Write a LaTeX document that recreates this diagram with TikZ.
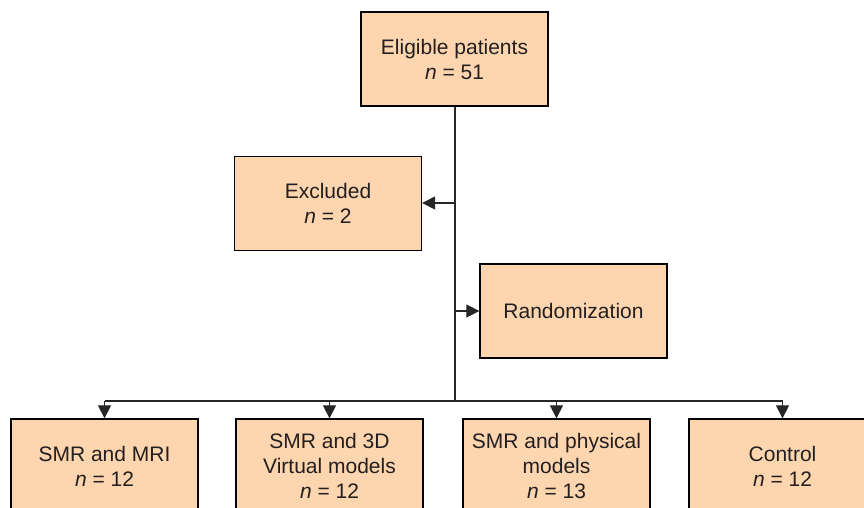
\documentclass[tikz,border=0pt]{standalone}
\usepackage{fontspec}
\setmainfont{Liberation Sans}
\usetikzlibrary{arrows.meta}
\definecolor{boxfill}{HTML}{FDD5AE}
\definecolor{inkgray}{HTML}{231F20}

\begin{document}
\begin{tikzpicture}
[every node/.style={inner sep=0pt},
 flowbox/.style={rectangle, minimum width=187pt, minimum height=94pt, fill=boxfill, line width=1.3pt, draw=black, align=center, text=inkgray, font=\fontsize{21pt}{25pt}\selectfont},
 flowline/.style={line width=1.2pt, color=black!85},
 flowarrow/.style={flowline, -{Triangle[length=13pt, width=13pt]}}]
\useasboundingbox (0pt, 0pt) rectangle (864pt, -508pt);
\clip (0pt, 0pt) rectangle (864pt, -508pt);
\node (eligible) [flowbox] at (454.5pt, -59.0pt) {Eligible patients\\\textit{n} = 51};
\node (excluded) [flowbox] at (328.0pt, -203.5pt) {Excluded\\\textit{n} = 2};
\node (random) [flowbox] at (573.5pt, -311.0pt) {Randomization};
\node (mri) [flowbox] at (104.5pt, -466.0pt) {SMR and MRI\\\textit{n} = 12};
\node (virtual) [flowbox] at (329.5pt, -466.0pt) {SMR and 3D\\Virtual models\\\textit{n} = 12};
\node (physical) [flowbox] at (556.5pt, -466.0pt) {SMR and physical\\models\\\textit{n} = 13};
\node (control) [flowbox] at (782.5pt, -466.0pt) {Control\\\textit{n} = 12};
\coordinate (exbranch) at (455.0pt, -203.0pt);
\coordinate (randbranch) at (455.0pt, -311.0pt);
\coordinate (split) at (455.0pt, -401.0pt);
\draw [flowline] (eligible.south -| split) to (split);
\draw [flowarrow] (exbranch) to (exbranch -| excluded.east);
\draw [flowarrow] (randbranch) to (randbranch -| random.west);
\draw [flowline] (mri.north |- split) to (control.north |- split);
\draw [flowarrow] (mri.north |- split) to (mri.north);
\draw [flowarrow] (virtual.north |- split) to (virtual.north);
\draw [flowarrow] (physical.north |- split) to (physical.north);
\draw [flowarrow] (control.north |- split) to (control.north);
\end{tikzpicture}
\end{document}
